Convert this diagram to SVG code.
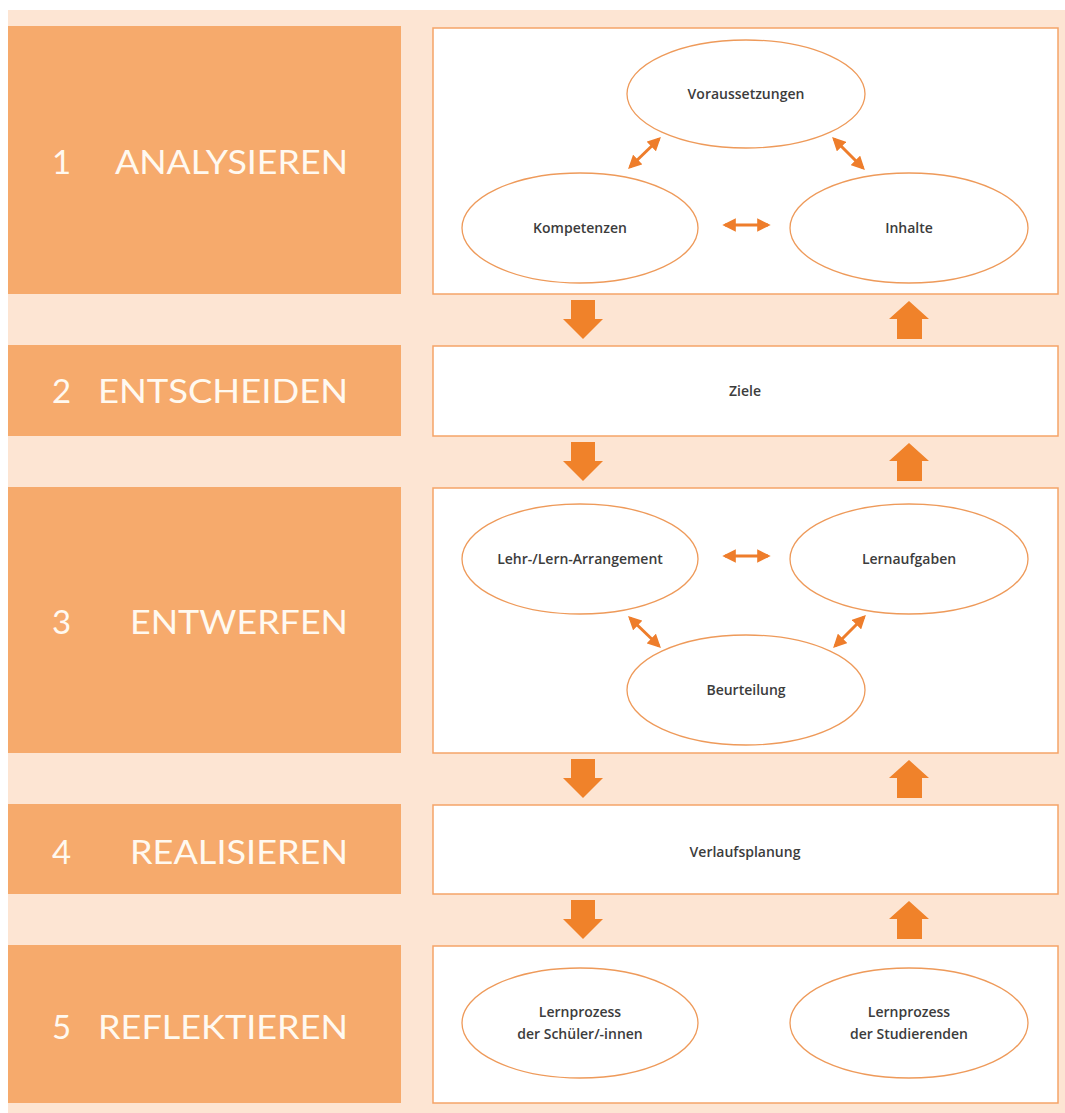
<svg xmlns="http://www.w3.org/2000/svg" width="1065" height="1113" viewBox="0 0 1065 1113">
<defs>
<style>
.stage{fill:#F6AA6C;}
.panel{fill:#FFFFFF;stroke:#F5A468;stroke-width:1.5;}
.node{fill:#FFFFFF;stroke:#EE9A5A;stroke-width:1.3;}
.lbl{font-family:"Lato","Open Sans",sans-serif;font-size:33px;fill:#FFF9F0;}
.txt{font-family:"Open Sans","Noto Sans",sans-serif;font-size:14px;font-weight:600;fill:#3C3C3C;text-anchor:middle;}
.dbl{stroke:#EE7D2B;stroke-width:3;fill:none;marker-start:url(#ah);marker-end:url(#ah);}
.blk{fill:#F0822A;}
</style>
<marker id="ah" viewBox="0 0 10 10" refX="8" refY="5" markerWidth="4.5" markerHeight="4.5" orient="auto-start-reverse" markerUnits="strokeWidth">
<path d="M0,0 L10,5 L0,10 Z" fill="#EE7D2B"/>
</marker>
</defs>
<rect x="8" y="10" width="1057" height="1103" fill="#FDE5D3"/>

<g id="stage1">
<rect class="stage" x="8" y="26" width="393" height="268"/>
<text class="lbl" x="52" y="174">1</text>
<text class="lbl" x="115" y="174" textLength="233" lengthAdjust="spacingAndGlyphs">ANALYSIEREN</text>
</g>
<g id="stage2">
<rect class="stage" x="8" y="345" width="393" height="91"/>
<text class="lbl" x="52" y="403">2</text>
<text class="lbl" x="98" y="403" textLength="250" lengthAdjust="spacingAndGlyphs">ENTSCHEIDEN</text>
</g>
<g id="stage3">
<rect class="stage" x="8" y="487" width="393" height="266"/>
<text class="lbl" x="52" y="634">3</text>
<text class="lbl" x="130" y="634" textLength="218" lengthAdjust="spacingAndGlyphs">ENTWERFEN</text>
</g>
<g id="stage4">
<rect class="stage" x="8" y="804" width="393" height="90"/>
<text class="lbl" x="52" y="864">4</text>
<text class="lbl" x="130" y="864" textLength="218" lengthAdjust="spacingAndGlyphs">REALISIEREN</text>
</g>
<g id="stage5">
<rect class="stage" x="8" y="945" width="393" height="158"/>
<text class="lbl" x="52" y="1039">5</text>
<text class="lbl" x="98" y="1039" textLength="250" lengthAdjust="spacingAndGlyphs">REFLEKTIEREN</text>
</g>

<g id="panel1"><rect class="panel" x="433" y="28" width="625" height="266"/></g>
<g id="panel2"><rect class="panel" x="433" y="346" width="625" height="90"/><text class="txt" x="745" y="396">Ziele</text></g>
<g id="panel3"><rect class="panel" x="433" y="488" width="625" height="265"/></g>
<g id="panel4"><rect class="panel" x="433" y="805" width="625" height="89"/><text class="txt" x="745" y="857">Verlaufsplanung</text></g>
<g id="panel5"><rect class="panel" x="433" y="946" width="625" height="157"/></g>

<g id="voraussetzungen"><ellipse class="node" cx="746" cy="94" rx="119" ry="54"/><text class="txt" x="746" y="99">Voraussetzungen</text></g>
<g id="kompetenzen"><ellipse class="node" cx="580" cy="228" rx="118" ry="55"/><text class="txt" x="580" y="233">Kompetenzen</text></g>
<g id="inhalte"><ellipse class="node" cx="909" cy="228" rx="119" ry="55"/><text class="txt" x="909" y="233">Inhalte</text></g>

<g id="lehr-lern-arrangement"><ellipse class="node" cx="580" cy="559" rx="118" ry="55"/><text class="txt" x="580" y="564">Lehr-/Lern-Arrangement</text></g>
<g id="lernaufgaben"><ellipse class="node" cx="909" cy="559" rx="119" ry="55"/><text class="txt" x="909" y="564">Lernaufgaben</text></g>
<g id="beurteilung"><ellipse class="node" cx="746" cy="690" rx="119" ry="55"/><text class="txt" x="746" y="695">Beurteilung</text></g>

<g id="lernprozess-schueler"><ellipse class="node" cx="580" cy="1023" rx="118" ry="55"/><text class="txt" x="580" y="1017">Lernprozess</text><text class="txt" x="580" y="1039">der Schüler/-innen</text></g>
<g id="lernprozess-studierende"><ellipse class="node" cx="909" cy="1023" rx="119" ry="55"/><text class="txt" x="909" y="1017">Lernprozess</text><text class="txt" x="909" y="1039">der Studierenden</text></g>

<g id="connectors">
<line class="dbl" x1="630" y1="167" x2="659" y2="139"/>
<line class="dbl" x1="834" y1="139" x2="863" y2="168"/>
<line class="dbl" x1="725" y1="225" x2="768" y2="225"/>
<line class="dbl" x1="725" y1="556" x2="768" y2="556"/>
<line class="dbl" x1="630" y1="618" x2="659" y2="646"/>
<line class="dbl" x1="835" y1="646" x2="864" y2="617"/>

<polygon class="blk" points="571,300 595,300 595,319 603,319 583,339 563,319 571,319"/>
<polygon class="blk" points="909,301 929,319 922,319 922,339 897,339 897,319 889,319"/>
<polygon class="blk" points="571,442 595,442 595,461 603,461 583,481 563,461 571,461"/>
<polygon class="blk" points="909,443 929,461 922,461 922,481 897,481 897,461 889,461"/>
<polygon class="blk" points="571,759 595,759 595,778 603,778 583,798 563,778 571,778"/>
<polygon class="blk" points="909,760 929,778 922,778 922,798 897,798 897,778 889,778"/>
<polygon class="blk" points="571,900 595,900 595,919 603,919 583,939 563,919 571,919"/>
<polygon class="blk" points="909,901 929,919 922,919 922,939 897,939 897,919 889,919"/>
</g>
</svg>
